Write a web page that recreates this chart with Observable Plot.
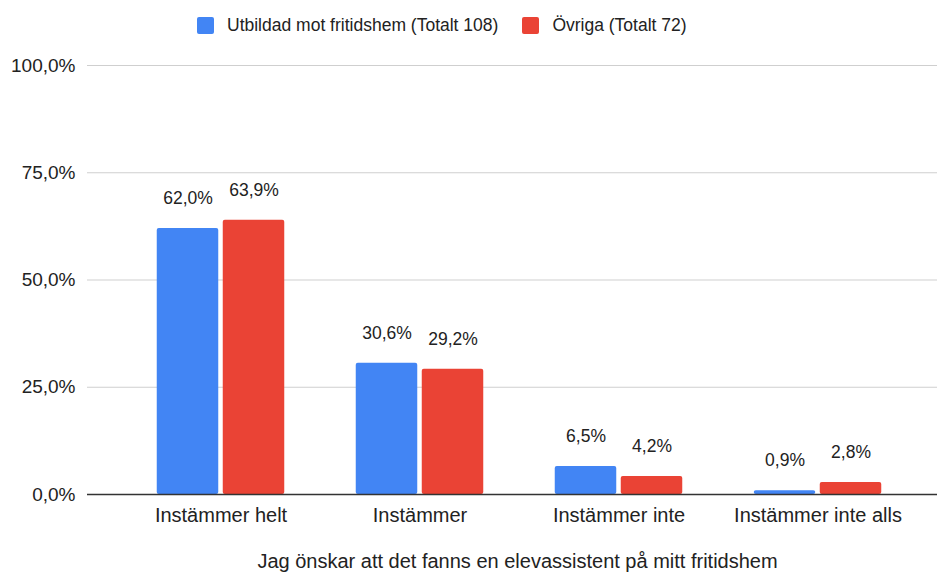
<!DOCTYPE html>
<html>
<head>
<meta charset="utf-8">
<script src="https://cdn.jsdelivr.net/npm/d3@7"></script>
<script src="https://cdn.jsdelivr.net/npm/@observablehq/plot@0.6"></script>
<style>
  html, body { margin: 0; padding: 0; background: #fff; overflow: hidden; }
  body { width: 940px; height: 573px; font-family: "Liberation Sans", Arial, sans-serif; color: #222; }
  #legend { height: 50px; display: flex; align-items: center; justify-content: flex-start; padding-left: 197px; box-sizing: border-box; font-size: 17.5px; }
  .item { display: flex; align-items: center; margin-right: 24px; }
  .sw { width: 17px; height: 17px; border-radius: 2px; margin-right: 13px; }
</style>
</head>
<body>
<div id="legend"></div>
<div id="chart"></div>
<script>
const categories = ["Instämmer helt", "Instämmer", "Instämmer inte", "Instämmer inte alls"];
const seriesNames = ["Utbildad mot fritidshem (Totalt 108)", "Övriga (Totalt 72)"];
const utbildad = [62.0, 30.6, 6.5, 0.9];
const ovriga = [63.9, 29.2, 4.2, 2.8];
const yTicks = [0, 25, 50, 75, 100];
const colors = ["#4285F4", "#EA4335"];
const axisTitle = "Jag önskar att det fanns en elevassistent på mitt fritidshem";

const fmt = v => v.toFixed(1).replace(".", ",") + "%";

const legend = document.getElementById("legend");
seriesNames.forEach((name, i) => {
  const it = document.createElement("div");
  it.className = "item";
  it.innerHTML = `<div class="sw" style="background:${colors[i]}"></div><span>${name}</span>`;
  legend.appendChild(it);
});

const dataA = categories.map((c, i) => ({cat: c, v: utbildad[i]}));
const dataB = categories.map((c, i) => ({cat: c, v: ovriga[i]}));

const chart = Plot.plot({
  width: 940,
  height: 523,
  marginTop: 15,
  marginBottom: 79,
  marginLeft: 87,
  marginRight: 3,
  style: {fontSize: "19px", fontFamily: "Liberation Sans, Arial, sans-serif", color: "#222", background: "#fff"},
  x: {domain: categories, padding: 0, insetLeft: 33, insetRight: 19, label: null, tickSize: 0, tickPadding: 13, fontSize: 20},
  y: {domain: [0, 100], ticks: yTicks, tickFormat: fmt, tickSize: 0, tickPadding: 12, label: null},
  marks: [
    Plot.ruleY(yTicks.filter(t => t > 0), {stroke: "#cfcfcf", strokeWidth: 1}),
    Plot.barY(dataA, {x: "cat", y: "v", fill: colors[0], insetLeft: 35.75, insetRight: 101.75, rx: 2}),
    Plot.barY(dataB, {x: "cat", y: "v", fill: colors[1], insetLeft: 101.75, insetRight: 35.75, rx: 2}),
    Plot.text(dataA, {x: "cat", y: "v", text: d => fmt(d.v), dx: -33, dy: -30, fill: "#222", fontSize: 17.5}),
    Plot.text(dataB, {x: "cat", y: "v", text: d => fmt(d.v), dx: 33, dy: -30, fill: "#222", fontSize: 17.5}),
    Plot.ruleY([0], {stroke: "#333", strokeWidth: 1.3}),
    Plot.text([axisTitle], {text: d => d, frameAnchor: "bottom", dx: 5, dy: 73.5, fill: "#222", fontSize: 20})
  ]
});
chart.querySelectorAll('[aria-label="x-axis"] text, [aria-label="x-axis tick label"] text').forEach(t => t.style.fontSize = "20px");
document.getElementById("chart").appendChild(chart);
</script>
</body>
</html>
